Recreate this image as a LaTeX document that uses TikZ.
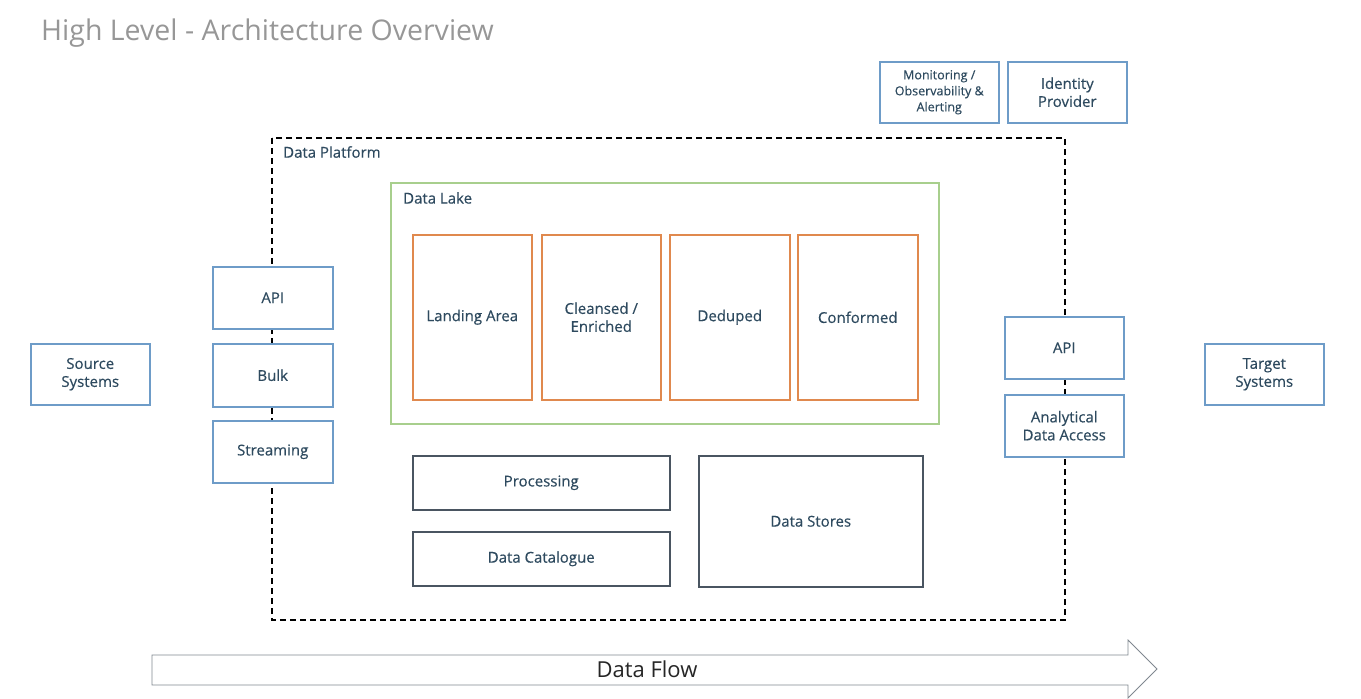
\documentclass[tikz,border=0pt]{standalone}
\usepackage{fontspec}
\setmainfont{Open Sans}
\newfontfamily\medfont[FakeBold=0.35]{Open Sans}
\usetikzlibrary{shapes.arrows}
\definecolor{bluebd}{HTML}{6E9CC8}
\definecolor{txt}{HTML}{2E4A5F}
\definecolor{graybd}{HTML}{4A5561}
\definecolor{orng}{HTML}{E0894E}
\definecolor{grn}{HTML}{A8CF8D}
\definecolor{ttl}{HTML}{979797}
\tikzset{
  bx/.style={draw=#1, line width=1.5pt, fill=white, text=txt, align=center, font=\medfont\fontsize{15}{18}\selectfont},
  pbox/.style n args={5}{bx=#5, minimum width={#3-#1}, minimum height={#4-#2}, anchor=north west, inner sep=0pt},
  lbl/.style={anchor=north west, text=txt, font=\medfont\fontsize{15}{18}\selectfont, inner sep=0pt},
}
\begin{document}
\begin{tikzpicture}[x=1pt,y=-1pt]
\useasboundingbox (0,0) rectangle (1361,699);
% title
\node[anchor=west, text=ttl, font=\fontsize{28.5}{34}\selectfont, inner sep=0pt] (title) at (41,33) {High Level - Architecture Overview};
% top boxes
\node[pbox={879}{61}{998}{122}{bluebd}, font=\medfont\fontsize{12.5}{16}\selectfont] (mon) at (879,61) {Monitoring /\\Observability \&\\Alerting};
\node[pbox={1007}{61}{1126}{122}{bluebd}] (idp) at (1007,61) {Identity\\Provider};
% data platform
\draw[black, line width=1.6pt, dash pattern=on 6pt off 4pt] (272,138) rectangle (1065,620);
\node[lbl] (dplabel) at (283,146) {Data Platform};
% data lake
\draw[grn, line width=1.5pt] (391,183) rectangle (939,424);
\node[lbl] (dllabel) at (403,192) {Data Lake};
\node[pbox={412}{234}{531}{399}{orng}] (land) at (412,234) {Landing Area};
\node[pbox={541}{234}{660}{399}{orng}] (clean) at (541,234) {Cleansed /\\Enriched};
\node[pbox={669}{234}{789}{399}{orng}] (dedup) at (669,234) {Deduped};
\node[pbox={797}{234}{917}{399}{orng}] (conf) at (797,234) {Conformed};
% left
\node[pbox={212}{266}{332}{328}{bluebd}] (apiL) at (212,266) {API};
\node[pbox={212}{343}{332}{406}{bluebd}] (bulk) at (212,343) {Bulk};
\node[pbox={212}{420}{332}{482}{bluebd}] (stream) at (212,420) {Streaming};
\node[pbox={30}{343}{149}{404}{bluebd}] (src) at (30,343) {Source\\Systems};
% right
\node[pbox={1004}{316}{1123}{378}{bluebd}] (apiR) at (1004,316) {API};
\node[pbox={1004}{394}{1123}{456}{bluebd}] (ana) at (1004,394) {Analytical\\Data Access};
\node[pbox={1204}{343}{1323}{404}{bluebd}] (tgt) at (1204,343) {Target\\Systems};
% bottom
\node[pbox={412}{455}{669}{509}{graybd}] (proc) at (412,455) {Processing};
\node[pbox={412}{531}{669}{585}{graybd}] (cat) at (412,531) {Data Catalogue};
\node[pbox={698}{455}{922}{586}{graybd}] (stores) at (698,455) {Data Stores};
% data flow arrow
\draw[graybd!70, line width=0.8pt, fill=white] (152,655) -- (1128,655) -- (1128,640) -- (1157,669) -- (1128,698) -- (1128,685) -- (152,685) -- cycle;
\node[text=black!85, font=\fontsize{22}{26}\selectfont, inner sep=0pt] (flow) at (647,669) {Data Flow};
\end{tikzpicture}
\end{document}
